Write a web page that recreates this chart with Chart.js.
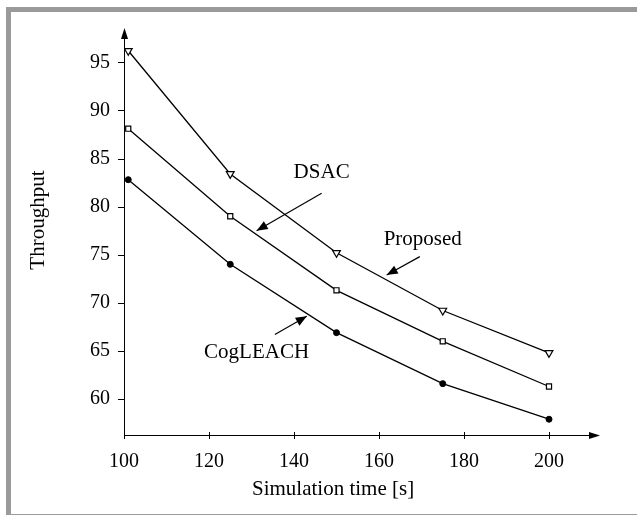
<!DOCTYPE html>
<html>
<head>
<meta charset="utf-8">
<script src="https://cdn.jsdelivr.net/npm/chart.js@4/dist/chart.umd.min.js"></script>
<style>
  html, body { margin: 0; padding: 0; background: #fff; }
  #wrap { position: relative; width: 637px; height: 515px; overflow: hidden; }
  #frame { position: absolute; left: 6px; top: 7px; width: 700px; height: 502px;
           border-top: 5px solid #9a9a9a; border-left: 5px solid #9a9a9a; border-bottom: 2px solid #9a9a9a; }
  #myChart { position: absolute; left: 0; top: 0; }
</style>
</head>
<body>
<div id="wrap">
  <div id="frame"></div>
  <canvas id="myChart" width="637" height="515"></canvas>
</div>
<script>
//data of the chart
let simTime = [101, 125, 150, 175, 200];
let proposed = [96.2, 83.4, 75.2, 69.2, 64.8];
let dsac = [88.1, 79.0, 71.3, 66.0, 61.3];
let cogleach = [82.8, 74.0, 66.9, 61.6, 57.9];
let xTicks = [100, 120, 140, 160, 180, 200];
let yTicks = [60, 65, 70, 75, 80, 85, 90, 95];
let xTitle = "Simulation time [s]";
let yTitle = "Throughput";

// labels with arrows, in data units: text position, arrow start, arrow tip
let notes = [
  { text: "DSAC", x: 146.5, y: 83.6, x1: 146.5, y1: 81.4, x2: 131.2, y2: 77.5 },
  { text: "Proposed", x: 170.3, y: 76.6, x1: 169.6, y1: 74.8, x2: 161.8, y2: 72.9 },
  { text: "CogLEACH", x: 131.2, y: 64.8, x1: 135.5, y1: 66.7, x2: 143.0, y2: 68.6 }
];

const serif = "'Liberation Serif', 'Times New Roman', serif";

function toPoints(xs, ys) {
  return xs.map((x, i) => ({ x: x, y: ys[i] }));
}

function arrowHead(ctx, x1, y1, x2, y2, len, half) {
  const a = Math.atan2(y2 - y1, x2 - x1);
  ctx.beginPath();
  ctx.moveTo(x2, y2);
  ctx.lineTo(x2 - len * Math.cos(a) + half * Math.sin(a), y2 - len * Math.sin(a) - half * Math.cos(a));
  ctx.lineTo(x2 - len * Math.cos(a) - half * Math.sin(a), y2 - len * Math.sin(a) + half * Math.cos(a));
  ctx.closePath();
  ctx.fill();
}

// axes with arrows + tick marks + titles + annotations
const axesPlugin = {
  id: 'axesPlugin',
  beforeDatasetsDraw(chart) {
    const ctx = chart.ctx;
    const a = chart.chartArea;
    const xs = chart.scales.x, ys = chart.scales.y;
    ctx.save();
    ctx.strokeStyle = '#000';
    ctx.fillStyle = '#000';
    ctx.lineWidth = 1;
    ctx.beginPath();
    ctx.moveTo(a.left + 0.5, a.bottom);
    ctx.lineTo(a.left + 0.5, a.top + 6);
    ctx.moveTo(a.left, a.bottom + 0.5);
    ctx.lineTo(a.right - 6, a.bottom + 0.5);
    // tick marks
    yTicks.forEach(v => {
      const p = Math.round(ys.getPixelForValue(v)) + 0.5;
      ctx.moveTo(a.left - 6, p);
      ctx.lineTo(a.left, p);
    });
    xTicks.forEach(v => {
      const p = Math.round(xs.getPixelForValue(v)) + 0.5;
      ctx.moveTo(p, a.bottom - 3);
      ctx.lineTo(p, a.bottom + 4);
    });
    ctx.stroke();
    arrowHead(ctx, a.left + 0.5, a.bottom, a.left + 0.5, a.top - 2, 11, 3.5);
    arrowHead(ctx, a.left, a.bottom + 0.5, a.right, a.bottom + 0.5, 11, 3.5);

    // axis titles
    ctx.font = '21px ' + serif;
    ctx.textAlign = 'center';
    ctx.textBaseline = 'middle';
    ctx.fillText(xTitle, xs.getPixelForValue(149.2), a.bottom + 54);
    ctx.translate(a.left - 86, ys.getPixelForValue(78.6));
    ctx.rotate(-Math.PI / 2);
    ctx.fillText(yTitle, 0, 0);
    ctx.restore();
  },
  afterDatasetsDraw(chart) {
    const ctx = chart.ctx;
    const xs = chart.scales.x, ys = chart.scales.y;
    ctx.save();
    ctx.fillStyle = '#000';
    ctx.strokeStyle = '#000';
    ctx.lineWidth = 1.2;
    ctx.font = '21px ' + serif;
    ctx.textAlign = 'center';
    ctx.textBaseline = 'middle';
    notes.forEach(n => {
      ctx.fillText(n.text, xs.getPixelForValue(n.x), ys.getPixelForValue(n.y));
      const x1 = xs.getPixelForValue(n.x1), y1 = ys.getPixelForValue(n.y1);
      const x2 = xs.getPixelForValue(n.x2), y2 = ys.getPixelForValue(n.y2);
      ctx.beginPath();
      ctx.moveTo(x1, y1);
      ctx.lineTo(x2, y2);
      ctx.stroke();
      arrowHead(ctx, x1, y1, x2, y2, 11, 4.5);
    });
    ctx.restore();
  }
};

const ctx = document.getElementById('myChart').getContext('2d');
const myChart = new Chart(ctx, {
  type: 'line',
  data: {
    datasets: [
      {
        label: 'Proposed',
        data: toPoints(simTime, proposed),
        borderColor: '#000', borderWidth: 1.3,
        pointStyle: 'triangle', rotation: 180, pointRadius: 4.5,
        pointBackgroundColor: '#fff', pointBorderColor: '#000', pointBorderWidth: 1.2
      },
      {
        label: 'DSAC',
        data: toPoints(simTime, dsac),
        borderColor: '#000', borderWidth: 1.3,
        pointStyle: 'rect', pointRadius: 3.6,
        pointBackgroundColor: '#fff', pointBorderColor: '#000', pointBorderWidth: 1.2
      },
      {
        label: 'CogLEACH',
        data: toPoints(simTime, cogleach),
        borderColor: '#000', borderWidth: 1.3,
        pointStyle: 'circle', pointRadius: 3,
        pointBackgroundColor: '#000', pointBorderColor: '#000', pointBorderWidth: 1
      }
    ]
  },
  options: {
    responsive: false,
    animation: false,
    layout: { padding: { left: 0, top: 30, right: 37, bottom: 0 } },
    plugins: { legend: { display: false }, tooltip: { enabled: false } },
    scales: {
      x: {
        type: 'linear', min: 100, max: 212,
        grid: { display: false, drawTicks: false },
        border: { display: false },
        afterBuildTicks: s => { s.ticks = xTicks.map(v => ({ value: v })); },
        afterFit: s => { s.height = 80; },
        ticks: { color: '#000', padding: 15, maxRotation: 0, font: { family: serif, size: 20 } }
      },
      y: {
        type: 'linear', min: 56.26, max: 98.36,
        grid: { display: false, drawTicks: false },
        border: { display: false },
        afterBuildTicks: s => { s.ticks = yTicks.map(v => ({ value: v })); },
        afterFit: s => { s.width = 124; },
        ticks: { color: '#000', padding: 14, font: { family: serif, size: 20 } }
      }
    }
  },
  plugins: [axesPlugin]
});
</script>
</body>
</html>
